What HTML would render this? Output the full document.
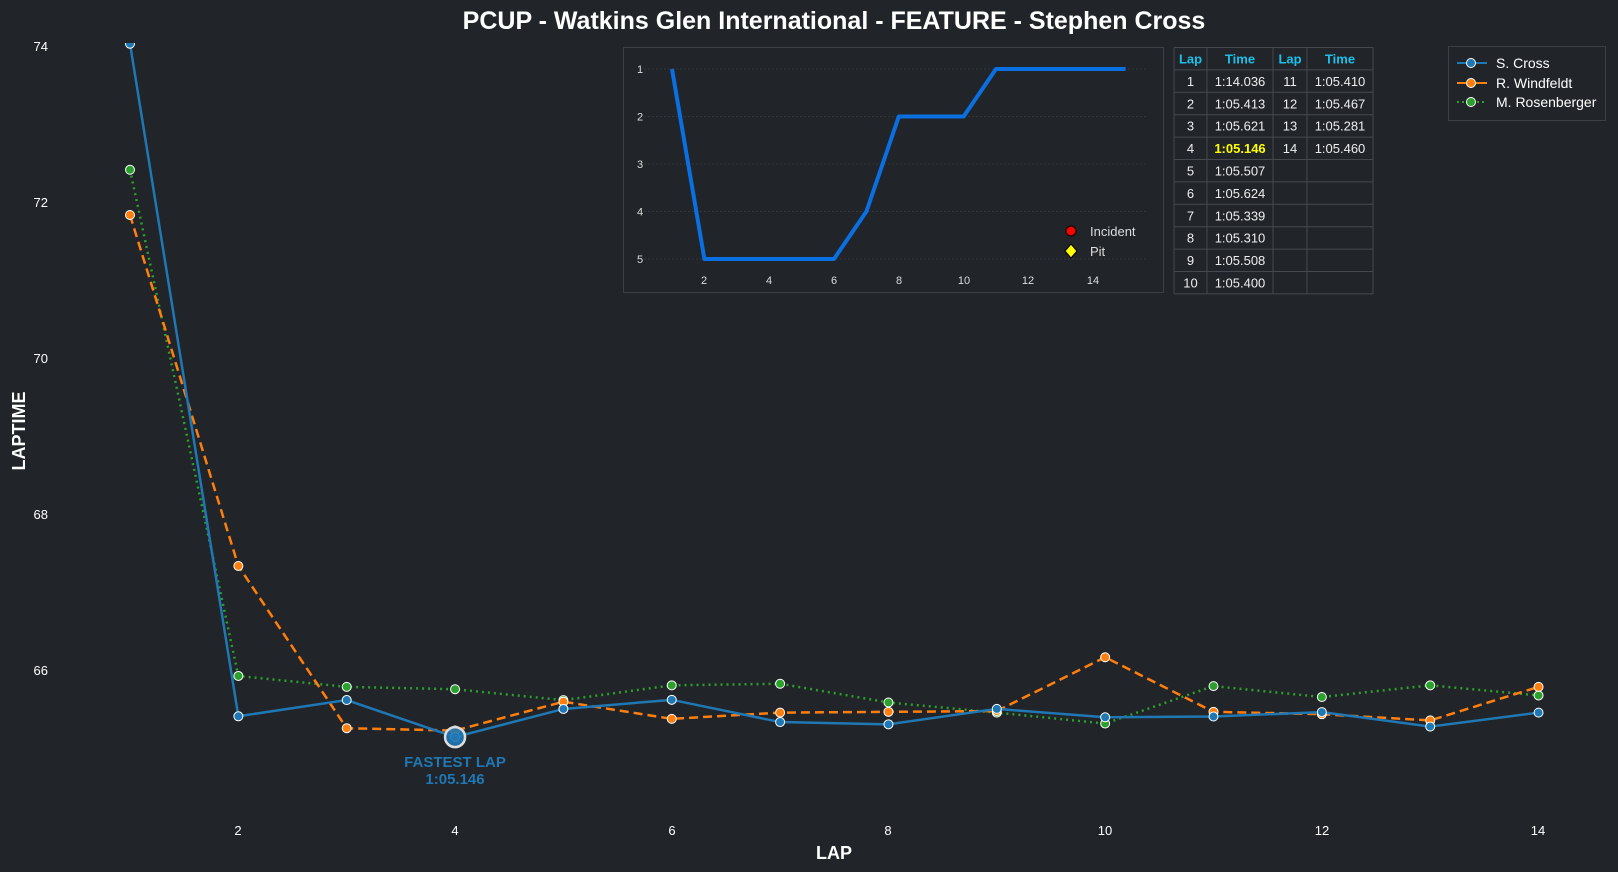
<!DOCTYPE html>
<html><head><meta charset="utf-8"><style>
body{margin:0;background:#212428;}
svg{display:block;font-family:"Liberation Sans",Arial,sans-serif;}
</style></head><body>
<svg id="s" width="1618" height="872" viewBox="0 0 1618 872" xmlns="http://www.w3.org/2000/svg">
<rect width="1618" height="872" fill="#212428"/>
<text x="834" y="29" text-anchor="middle" fill="#fff" font-size="25" font-weight="bold">PCUP - Watkins Glen International - FEATURE - Stephen Cross</text>
<g fill="#fff" font-size="13" text-anchor="end">
<text x="48" y="51">74</text><text x="48" y="207">72</text><text x="48" y="363">70</text><text x="48" y="519">68</text><text x="48" y="675">66</text>
</g>
<g fill="#fff" font-size="13" text-anchor="middle">
<text x="238" y="835">2</text><text x="455" y="835">4</text><text x="672" y="835">6</text><text x="888" y="835">8</text><text x="1105" y="835">10</text><text x="1322" y="835">12</text><text x="1538" y="835">14</text>
</g>
<text x="834" y="859" text-anchor="middle" fill="#fff" font-size="18" font-weight="bold">LAP</text>
<text transform="translate(25,431) rotate(-90)" text-anchor="middle" fill="#fff" font-size="18" font-weight="bold">LAPTIME</text>
<defs><clipPath id="cp"><rect x="60" y="43" width="1560" height="780"/></clipPath></defs>
<g id="main" clip-path="url(#cp)"></g>
<text x="455" y="767" text-anchor="middle" fill="#1f77b4" font-size="15" font-weight="bold">FASTEST LAP</text>
<text x="455" y="784" text-anchor="middle" fill="#1f77b4" font-size="15" font-weight="bold">1:05.146</text>

<!-- inset -->
<rect x="623.5" y="47.5" width="540" height="245" fill="#212428" stroke="#3c3f44" stroke-width="1"/>
<g stroke="#34373c" stroke-dasharray="2,2" stroke-width="1">
<line x1="640" x2="1148" y1="69" y2="69"/><line x1="640" x2="1148" y1="116.5" y2="116.5"/><line x1="640" x2="1148" y1="164" y2="164"/><line x1="640" x2="1148" y1="211.5" y2="211.5"/><line x1="640" x2="1148" y1="259" y2="259"/>
</g>
<g fill="#ddd" font-size="11" text-anchor="middle">
<text x="640" y="73">1</text><text x="640" y="120.5">2</text><text x="640" y="168">3</text><text x="640" y="215.5">4</text><text x="640" y="263">5</text>
<text x="704" y="284">2</text><text x="769" y="284">4</text><text x="834" y="284">6</text><text x="899" y="284">8</text><text x="964" y="284">10</text><text x="1028" y="284">12</text><text x="1093" y="284">14</text>
</g>
<polyline id="pos" fill="none" stroke="#0a6fe0" stroke-width="4" stroke-linejoin="round"/>
<circle cx="1071" cy="231" r="5" fill="#f00" stroke="#000" stroke-width="1"/>
<text x="1090" y="236" fill="#ddd" font-size="13">Incident</text>
<polygon points="1071,244 1077,251 1071,258 1065,251" fill="#ff0" stroke="#000" stroke-width="1"/>
<text x="1090" y="256" fill="#ddd" font-size="13">Pit</text>

<!-- table -->
<g id="tbl" font-size="13" text-anchor="middle"></g>

<!-- legend -->
<rect x="1448.5" y="46.5" width="157" height="74" fill="#212428" stroke="#3c3f44"/>
<line x1="1457" x2="1487" y1="63" y2="63" stroke="#1f77b4" stroke-width="2"/><circle cx="1471" cy="63" r="4.5" fill="#1f77b4" stroke="#fff"/>
<line x1="1457" x2="1487" y1="83" y2="83" stroke="#ff7f0e" stroke-width="2"/><circle cx="1471" cy="83" r="4.5" fill="#ff7f0e" stroke="#fff"/>
<line x1="1457" x2="1487" y1="102" y2="102" stroke="#2ca02c" stroke-width="2" stroke-dasharray="2,3"/><circle cx="1471" cy="102" r="4.5" fill="#2ca02c" stroke="#fff"/>
<g fill="#fff" font-size="14"><text x="1496" y="68">S. Cross</text><text x="1496" y="88">R. Windfeldt</text><text x="1496" y="107">M. Rosenberger</text></g>
</svg>
<script>
var NS="http://www.w3.org/2000/svg";
function X(l){return 130+(l-1)*108.35;}
function Y(v){return 46.5+(74-v)*78;}
var S=[74.036,65.413,65.621,65.146,65.507,65.624,65.339,65.310,65.508,65.400,65.410,65.467,65.281,65.460];
var W=[71.84,67.34,65.26,65.23,65.60,65.38,65.46,65.47,65.48,66.17,65.47,65.44,65.36,65.79];
var R=[72.42,65.93,65.79,65.76,65.62,65.81,65.83,65.59,65.46,65.32,65.80,65.66,65.81,65.68];
var g=document.getElementById("main");
function el(n,a,p){var e=document.createElementNS(NS,n);for(var k in a)e.setAttribute(k,a[k]);(p||g).appendChild(e);return e;}
function series(d,c,dash){
 el("polyline",{points:d.map(function(v,i){return X(i+1)+","+Y(v)}).join(" "),fill:"none",stroke:c,"stroke-width":2.5,"stroke-dasharray":dash});
 d.forEach(function(v,i){el("circle",{cx:X(i+1),cy:Y(v),r:4.5,fill:c,stroke:"#fff","stroke-width":1});});
}
series(R,"#2ca02c","2,4");
series(W,"#ff7f0e","9,5");
series(S,"#1f77b4","none");
el("circle",{cx:X(4),cy:Y(65.146),r:10,fill:"#1f77b4",stroke:"#ddd","stroke-width":2.5,"fill-opacity":0.9});
var P=[1,5,5,5,5,5,4,2,2,2,1,1,1,1,1];
document.getElementById("pos").setAttribute("points",P.map(function(p,i){return (672+i*32.4)+","+(69+(p-1)*47.5)}).join(" "));
var t=document.getElementById("tbl");
var cols=[1174,1207,1273,1307,1373],y0=47.5,rh=22.4;
for(var r=0;r<=11;r++)el("line",{x1:1174,x2:1373,y1:y0+r*rh,y2:y0+r*rh,stroke:"#45484d"},t);
cols.forEach(function(x){el("line",{x1:x,x2:x,y1:y0,y2:y0+11*rh,stroke:"#45484d"},t);});
var rows=[["Lap","Time","Lap","Time"],["1","1:14.036","11","1:05.410"],["2","1:05.413","12","1:05.467"],["3","1:05.621","13","1:05.281"],["4","1:05.146","14","1:05.460"],["5","1:05.507","",""],["6","1:05.624","",""],["7","1:05.339","",""],["8","1:05.310","",""],["9","1:05.508","",""],["10","1:05.400","",""]];
rows.forEach(function(rw,i){rw.forEach(function(s,j){
 var a={x:(cols[j]+cols[j+1])/2,y:y0+i*rh+16,fill:"#eee"};
 if(i==0){a.fill="#1ec0e8";a["font-weight"]="bold";}
 if(i==4&&j==1){a.fill="#ffff00";a["font-weight"]="bold";}
 var e=el("text",a,t);e.textContent=s;});});
</script>
</body></html>
